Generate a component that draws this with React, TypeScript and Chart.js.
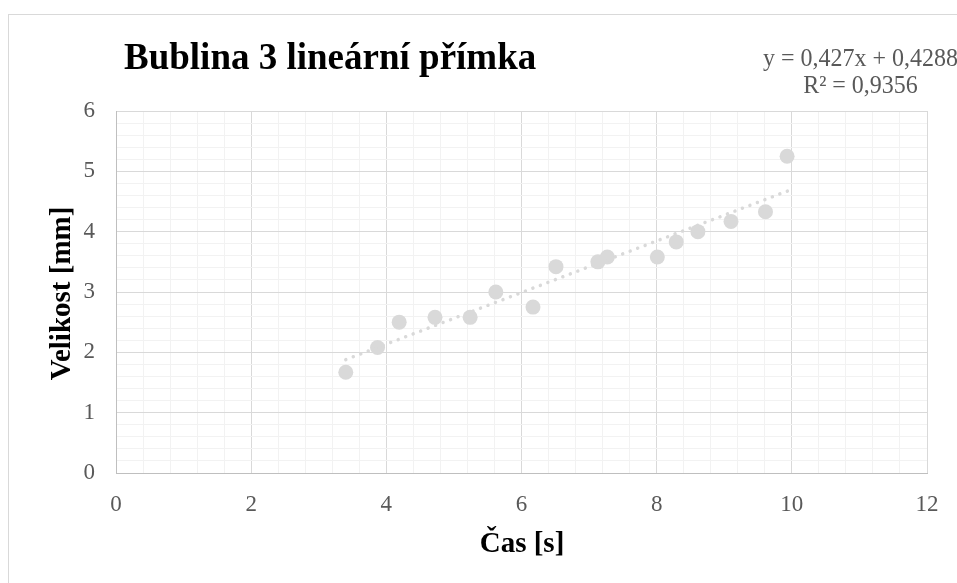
import React, { useEffect, useRef } from "react";
import { Chart, registerables } from "chart.js";

Chart.register(...registerables);

// ---- data ----
const timeS = [3.4, 3.87, 4.19, 4.72, 5.24, 5.62, 6.17, 6.51, 7.13, 7.27, 8.01, 8.29, 8.61, 9.1, 9.61, 9.93];
const sizeMm = [1.67, 2.08, 2.5, 2.58, 2.58, 3.0, 2.75, 3.42, 3.5, 3.58, 3.58, 3.83, 4.0, 4.17, 4.33, 5.25];
const trendX = [3.4, 9.95];
const trendY = [1.88, 4.68];

const xRange = [0, 12];
const yRange = [0, 6];
const xMajorStep = 2;
const xMinorStep = 0.4;
const yMajorStep = 1;
const yMinorStep = 0.2;

const titleText = "Bublina 3 lineární přímka";
const xTitleText = "Čas [s]";
const yTitleText = "Velikost [mm]";
const equationLines = ["y = 0,427x + 0,4288", "R² = 0,9356"];

const FONT = '"Liberation Serif", "Times New Roman", serif';

const isMultiple = (v: number, step: number) => Math.abs(v / step - Math.round(v / step)) < 1e-6;

const textPlugin = {
  id: "customTexts",
  beforeDraw(chart: any) {
    const ctx = chart.ctx;
    ctx.save();
    ctx.fillStyle = "#ffffff";
    ctx.fillRect(0, 0, chart.width, chart.height);
    ctx.restore();
  },
  afterDraw(chart: any) {
    const ctx = chart.ctx;
    ctx.save();
    // outer chart border
    ctx.strokeStyle = "#d9d9d9";
    ctx.lineWidth = 1;
    ctx.strokeRect(8.5, 14.5, 1200, 1200);

    // title
    ctx.fillStyle = "#000000";
    ctx.font = `bold 37px ${FONT}`;
    ctx.textAlign = "left";
    ctx.textBaseline = "alphabetic";
    ctx.save();
    ctx.translate(124, 69);
    ctx.scale(1, 1.04);
    ctx.fillText(titleText, 0, 0);
    ctx.restore();

    // x axis title
    ctx.font = `bold 29px ${FONT}`;
    ctx.textAlign = "center";
    ctx.save();
    ctx.translate(522, 552);
    ctx.scale(1, 1.05);
    ctx.fillText(xTitleText, 0, 0);
    ctx.restore();

    // y axis title
    ctx.save();
    ctx.translate(70, 293.5);
    ctx.rotate(-Math.PI / 2);
    ctx.textAlign = "center";
    ctx.fillText(yTitleText, 0, 0);
    ctx.restore();

    // trendline equation
    ctx.fillStyle = "#595959";
    ctx.font = `24px ${FONT}`;
    ctx.textAlign = "center";
    [0, 1].forEach((i) => {
      ctx.save();
      ctx.translate(860.5, i === 0 ? 66 : 93);
      ctx.scale(1, 1.07);
      ctx.fillText(equationLines[i], 0, 0);
      ctx.restore();
    });
    ctx.restore();
  },
};

export default function App() {
  const canvasRef = useRef<HTMLCanvasElement | null>(null);

  useEffect(() => {
    if (!canvasRef.current) return;
    const gridColor = (step: number) => (c: any) =>
      c.tick && isMultiple(c.tick.value, step) ? "#d9d9d9" : "#f2f2f2";

    const chart = new Chart(canvasRef.current, {
      type: "scatter",
      data: {
        datasets: [
          {
            type: "line",
            label: "trend",
            data: trendX.map((x, i) => ({ x, y: trendY[i] })),
            borderColor: "#d9d9d9",
            borderWidth: 3.5,
            borderDash: [0.01, 8],
            borderCapStyle: "round",
            pointRadius: 0,
            fill: false,
            tension: 0,
          } as any,
          {
            label: "data",
            data: timeS.map((x, i) => ({ x, y: sizeMm[i] })),
            backgroundColor: "#d9d9d9",
            borderWidth: 0,
            pointRadius: 7.5,
            pointHoverRadius: 7.5,
          },
        ],
      },
      options: {
        animation: false,
        responsive: true,
        maintainAspectRatio: false,
        events: [],
        layout: { padding: { top: 111, right: 30, left: 0, bottom: 0 } },
        plugins: {
          legend: { display: false },
          title: { display: false },
          tooltip: { enabled: false },
        },
        scales: {
          x: {
            type: "linear",
            min: xRange[0],
            max: xRange[1],
            afterFit: (s: any) => {
              s.height = 110;
            },
            grid: { color: gridColor(xMajorStep), drawTicks: false, lineWidth: 1 },
            border: { color: "#bfbfbf", width: 1 },
            ticks: {
              stepSize: xMinorStep,
              autoSkip: false,
              maxRotation: 0,
              maxTicksLimit: 1000,
              padding: 18,
              color: "#595959",
              font: { family: FONT, size: 23 },
              callback: (v: any) => (isMultiple(Number(v), xMajorStep) ? String(Math.round(Number(v))) : ""),
            },
          },
          y: {
            type: "linear",
            min: yRange[0],
            max: yRange[1],
            afterFit: (s: any) => {
              s.width = 116;
            },
            grid: { color: gridColor(yMajorStep), drawTicks: false, lineWidth: 1 },
            border: { color: "#bfbfbf", width: 1 },
            ticks: {
              stepSize: yMinorStep,
              autoSkip: false,
              maxTicksLimit: 1000,
              padding: 21,
              color: "#595959",
              font: { family: FONT, size: 23 },
              callback: (v: any) => (isMultiple(Number(v), yMajorStep) ? String(Math.round(Number(v))) : ""),
            },
          },
        },
      },
      plugins: [textPlugin],
    });
    return () => chart.destroy();
  }, []);

  return (
    <div style={{ position: "absolute", left: 0, top: 0, width: 957, height: 583, background: "#fff" }}>
      <canvas ref={canvasRef} />
    </div>
  );
}
